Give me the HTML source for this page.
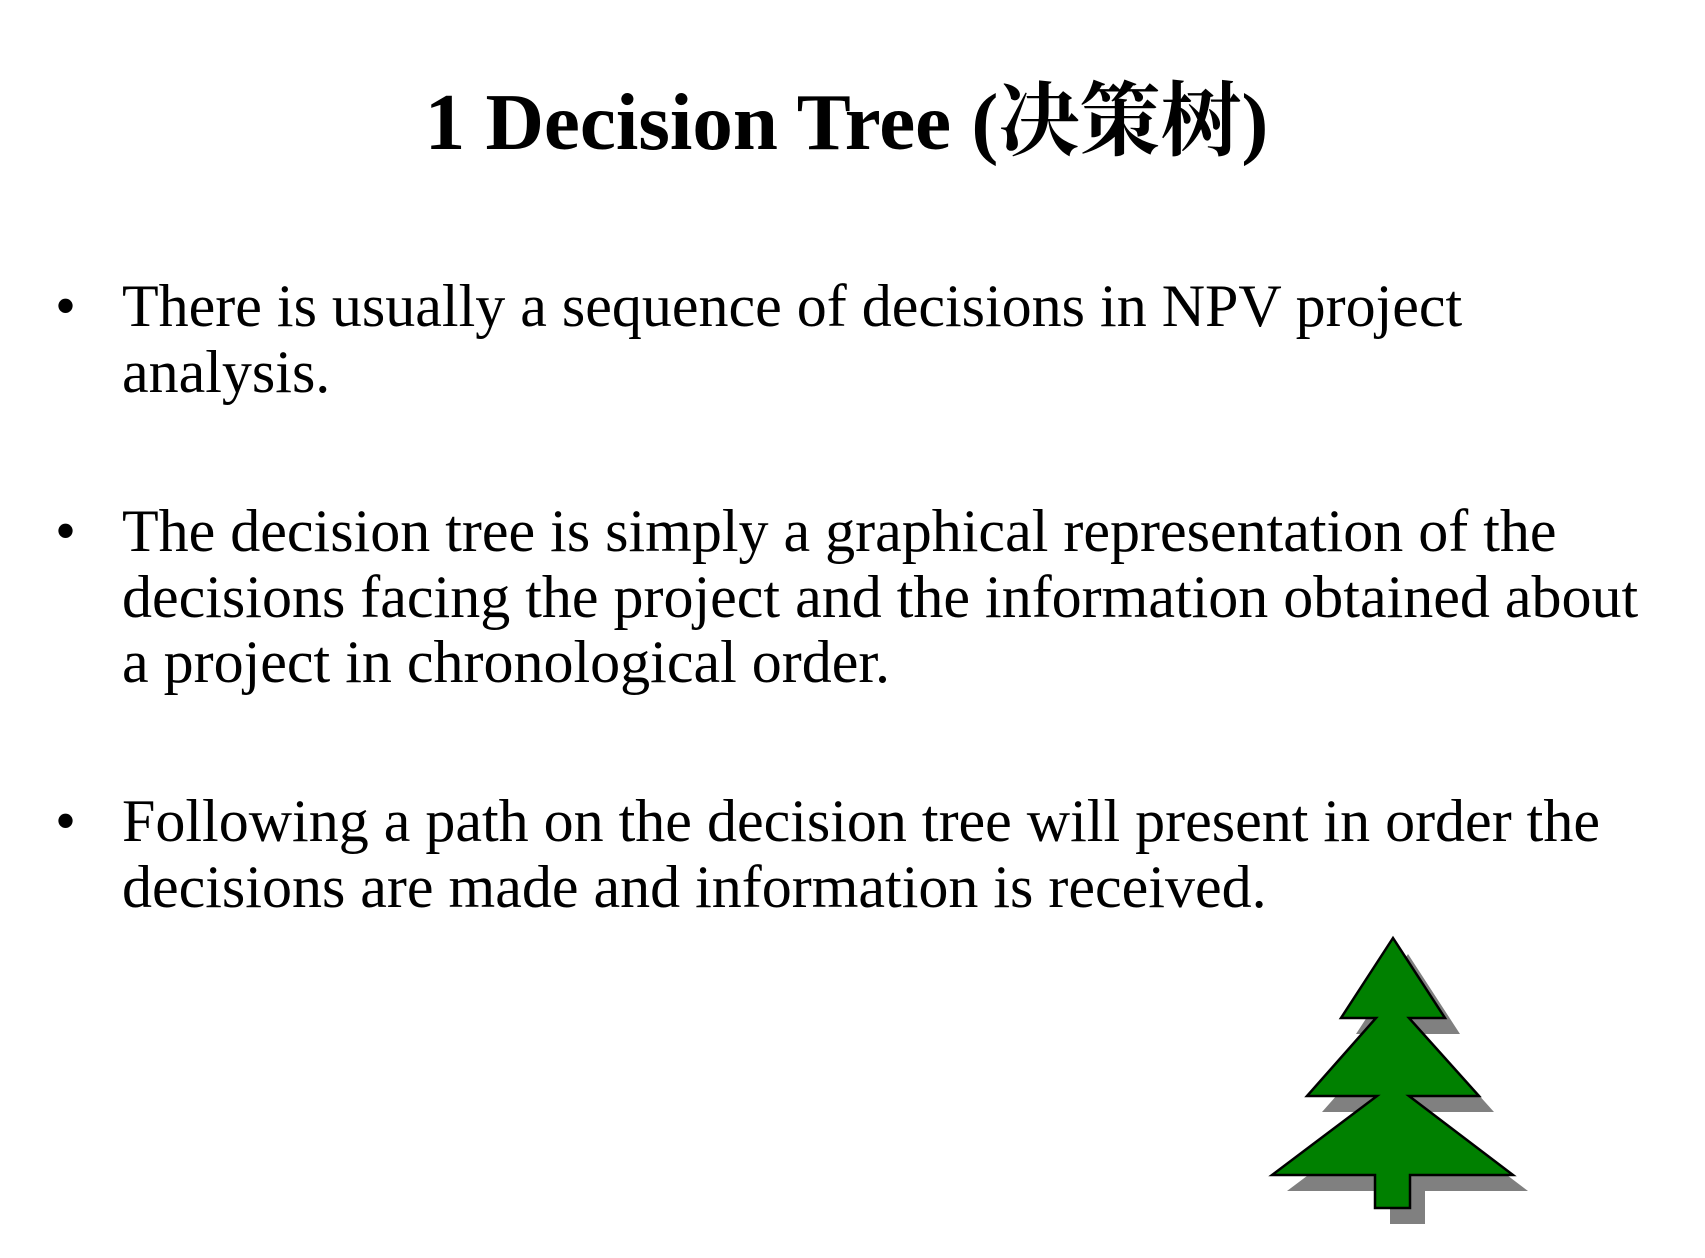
<!DOCTYPE html>
<html><head><meta charset="utf-8"><style>
body{margin:0;width:1705px;height:1258px;background:#fff;position:relative;overflow:hidden;font-family:"Liberation Serif","Noto Serif CJK SC",serif;color:#000}
.t{position:absolute;left:-6px;width:1705px;text-align:center;top:74px;font-size:81px;font-weight:bold;line-height:96px;font-family:"Liberation Serif","Noto Serif CJK SC","Noto Sans CJK SC",serif}
.b{position:absolute;left:58px;font-size:60px;line-height:65.5px}
.b span.dot{position:absolute;left:-3px}
.b div{margin-left:64px;white-space:nowrap}
</style></head><body>
<div class="t">1 Decision Tree (决策树)</div>
<div class="b" style="top:274px"><span class="dot">•</span><div>There is usually a sequence of decisions in NPV project<br>analysis.</div></div>
<div class="b" style="top:499px"><span class="dot">•</span><div>The decision tree is simply a graphical representation of the<br>decisions facing the project and the information obtained about<br>a project in chronological order.</div></div>
<div class="b" style="top:789px"><span class="dot">•</span><div>Following a path on the decision tree will present in order the<br>decisions are made and information is received.</div></div>
<svg width="1705" height="1258" style="position:absolute;left:0;top:0">
<g transform="translate(15,16)"><polygon fill="#808080" points="1393,938 1445,1018 1409,1018 1479,1096 1409,1096 1513,1175 1410,1175 1410,1208 1375,1208 1375,1175 1272,1175 1377,1096 1307,1096 1376,1018 1341,1018"/></g>
<polygon fill="#008000" stroke="#000" stroke-width="2.5" points="1393,938 1445,1018 1409,1018 1479,1096 1409,1096 1513,1175 1410,1175 1410,1208 1375,1208 1375,1175 1272,1175 1377,1096 1307,1096 1376,1018 1341,1018"/>
</svg>
</body></html>
